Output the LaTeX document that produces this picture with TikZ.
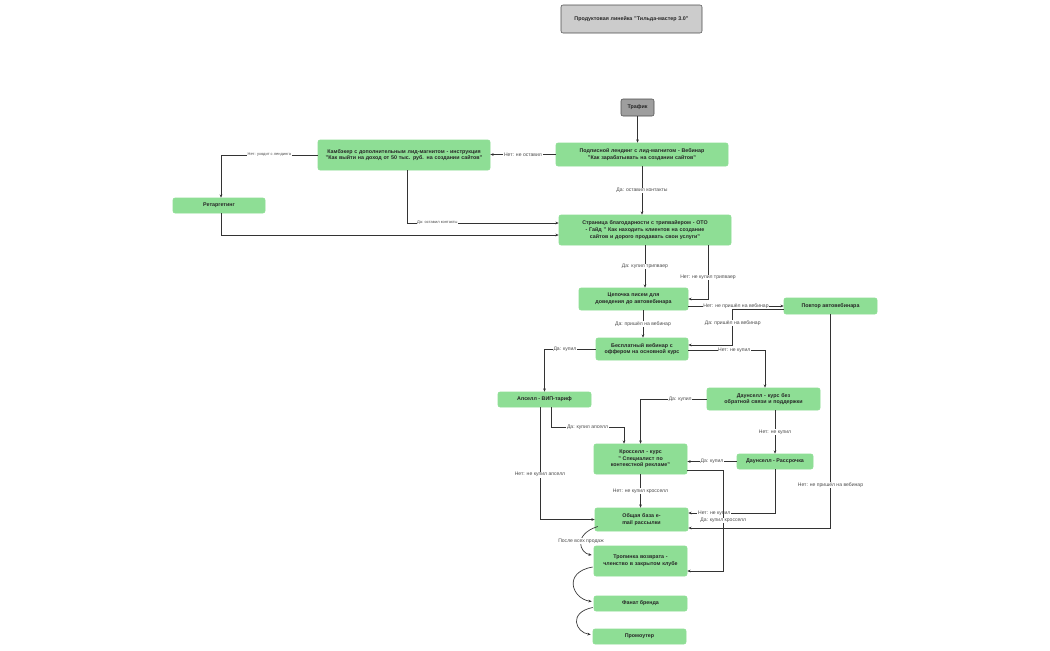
\documentclass[tikz,border=0pt]{standalone}
\usepackage{fontspec}
\setmainfont{Liberation Sans}
\usetikzlibrary{calc,arrows.meta}
\definecolor{gbox}{HTML}{8EDE95}
\definecolor{ln}{HTML}{333333}
\begin{document}
\begin{tikzpicture}[x=0.75pt,y=-0.75pt,
  bx/.style={draw=gbox,fill=gbox,rounded corners=1.5pt,align=center,inner sep=1pt,
    font=\fontsize{4}{5}\selectfont\bfseries,text=black!85},
  arr/.style={draw=ln,line width=0.5pt,-{Stealth[length=2.5pt,width=2pt]}},
  lab/.style={fill=white,inner sep=0.5pt,font=\fontsize{3.8}{4.5}\selectfont,text=black!70}]
\fill[white] (0,0) rectangle (1050,650);
\node[bx,fill=black!20,draw=black!70,minimum width=105.75pt,minimum height=21pt,text width=100pt] (title) at (631.5,19) {Продуктовая линейка "Тильда-мастер 3.0"};
\node[bx,fill=black!38,draw=black!70,minimum width=24.75pt,minimum height=12.75pt] (traf) at (637.5,107.5) {Трафик};
\node[bx,minimum width=129pt,minimum height=17.25pt,text width=124pt] (land) at (642,154.5) {Подписной лендинг с лид-магнитом - Вебинар "Как зарабатывать на создании сайтов"};
\node[bx,minimum width=129pt,minimum height=22.5pt,text width=124pt] (comb) at (404,155) {Камбэкер с дополнительным лид-магнитом - инструкция "Как выйти на доход от 50 тыс. руб. на создании сайтов"};
\node[bx,minimum width=69pt,minimum height=11.25pt] (ret) at (219,205.5) {Ретаргетинг};
\node[bx,minimum width=129pt,minimum height=22.5pt,text width=124pt] (thx) at (645,230) {Страница благодарности с трипвайером - ОТО - Гайд " Как находить клиентов на создание сайтов и дорого продавать свои услуги"};
\node[bx,minimum width=81.75pt,minimum height=16.5pt,text width=70pt] (chain) at (633.5,299) {Цепочка писем для доведения до автовебинара};
\node[bx,minimum width=69.75pt,minimum height=12pt] (rep) at (830.5,306) {Повтор автовебинара};
\node[bx,minimum width=69pt,minimum height=16.5pt,text width=66pt] (free) at (642,349) {Бесплатный вебинар с оффером на основной курс};
\node[bx,minimum width=69.75pt,minimum height=11.25pt] (up) at (544.5,399.5) {Апселл - ВИП-тариф};
\node[bx,minimum width=84.75pt,minimum height=16.5pt,text width=80pt] (down) at (763.5,399) {Даунселл - курс без обратной связи и поддержки};
\node[bx,minimum width=69.75pt,minimum height=22.5pt,text width=52pt] (cross) at (640.5,459) {Кросселл - курс " Специалист по контекстной рекламе"};
\node[bx,minimum width=57pt,minimum height=11.25pt] (down2) at (775,461.5) {Даунселл - Рассрочка};
\node[bx,minimum width=69.75pt,minimum height=17.25pt,text width=55pt] (base) at (641.5,519.5) {Общая база e-mail рассылки};
\node[bx,minimum width=69.75pt,minimum height=22.5pt,text width=62pt] (club) at (640.5,561) {Тропинка возврата - членство в закрытом клубе};
\node[bx,minimum width=69.75pt,minimum height=11.25pt] (fan) at (640.5,603.5) {Фанат бренда};
\node[bx,minimum width=69.75pt,minimum height=11.25pt] (promo) at (639.5,636.5) {Промоутер};

\draw[arr] (traf.south) -- (traf.south |- land.north);
\draw[arr] (land.west) -- node[lab]{Нет: не оставил} (comb.east |- land.west);
\draw[arr] (comb.west) -| node[lab,pos=0.25,font=\fontsize{3}{4}\selectfont]{Нет: уходит с лендинга} ($(ret.north)+(2,0)$);
\draw[arr] (land.south) -- node[lab]{Да: оставил контакты} (land.south |- thx.north);
\draw[arr] ($(comb.south)+(3,0)$) |- node[lab,pos=0.6,font=\fontsize{3}{4}\selectfont]{Да: оставил контакты} ($(thx.west)+(0,-7)$);
\draw[arr] ($(ret.south)+(2,0)$) |- ($(thx.west)+(0,5)$);
\draw[arr] (thx.south) -- node[lab]{Да: купил трипваер} (thx.south |- chain.north);
\draw[arr] ($(thx.south)+(63,0)$) |- node[lab,pos=0.3]{Нет: не купил трипваер} (chain.east);
\draw[arr] (chain.east |- rep.west) -- node[lab]{Нет: не пришёл на вебинар} (rep.west);
\draw[arr] ($(chain.south)+(9.5,0)$) -- node[lab]{Да: пришёл на вебинар} ($(free.north)+(1,0)$);
\draw[arr] ($(rep.west)+(0,3)$) -- ++(-51,0) |- node[lab,pos=0.2]{Да: пришёл на вебинар} ($(free.east)+(0,-4)$);
\draw[arr] (free.west) -| node[lab,pos=0.3]{Да: купил} (up.north);
\draw[arr] ($(free.east)+(0,1)$) -| node[lab,pos=0.3]{Нет: не купил} ($(down.north)+(1.5,0)$);
\draw[arr] (down.west) -| node[lab,pos=0.2]{Да: купил} (cross.north);
\draw[arr] ($(up.south)+(6.5,0)$) -- ++(0,20) -| node[lab,pos=0.25]{Да: купил апселл} ($(cross.north)+(-16.5,0)$);
\draw[arr] ($(up.south)+(-4.5,0)$) |- node[lab,pos=0.3]{Нет: не купил апселл} (base.west);
\draw[arr] (down2.north |- down.south) -- node[lab]{Нет: не купил} (down2.north);
\draw[arr] (down2.west) -- node[lab]{Да: купил} (cross.east |- down2.west);
\draw[arr] (cross.south) -- node[lab]{Нет: не купил кросселл} (cross.south |- base.north);
\draw[arr] (down2.south) |- node[lab,pos=0.85]{Нет: не купил} ($(base.east)+(0,-6.5)$);
\draw[arr] (rep.south) |- node[lab,pos=0.4]{Нет: не пришёл на вебинар} ($(base.east)+(0,8.5)$);
\draw[arr] ($(cross.east)+(0,11)$) -- ++(36,0) |- node[lab,pos=0.25]{Да: купил кросселл} ($(club.east)+(0,10)$);
\draw[arr] ($(base.west)+(3,7)$) .. controls +(-25,8) and +(-12,-2) .. node[lab,pos=0.45]{После всех продаж} ($(club.west)+(-2,-6)$);
\draw[arr] ($(club.west)+(-1,6)$) .. controls +(-30,5) and +(-20,-3) .. ($(fan.west)+(-2,-2)$);
\draw[arr] ($(fan.west)+(-1,4)$) .. controls +(-25,5) and +(-15,-2) .. ($(promo.west)+(-2,-2)$);
\end{tikzpicture}
\end{document}
